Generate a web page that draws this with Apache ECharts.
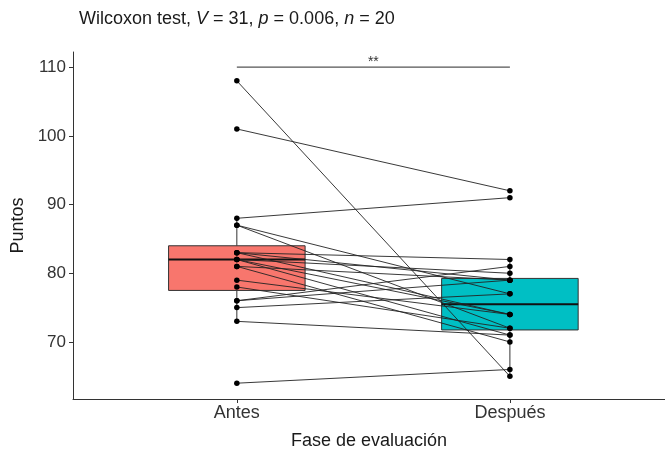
<!DOCTYPE html>
<html>
<head>
<meta charset="utf-8">
<script src="https://cdn.jsdelivr.net/npm/echarts@6/dist/echarts.min.js"></script>
<style>html,body{margin:0;padding:0;background:#fff;}#c{width:665px;height:456px;}</style>
</head>
<body>
<div id="c"></div>
<script>
const categories = ['Antes', 'Después'];
const antes   = [108, 101, 88, 87, 87, 83, 83, 83, 82, 82, 82, 81, 81, 79, 78, 76, 76, 75, 73, 64];
const despues = [65, 92, 91, 77, 72, 82, 74, 79, 80, 71, 74, 79, 70, 74, 72, 81, 79, 77, 71, 66];
const yTicks = [70, 80, 90, 100, 110];
const boxColors = ['#F8766D', '#00BFC4'];
const titleParts = { V: 31, p: '0.006', n: 20 };
const sigLabel = '**';
const sigLevel = 110;

function quant(arr, q) {
  const s = arr.slice().sort((a, b) => a - b);
  const pos = (s.length - 1) * q;
  const lo = Math.floor(pos), hi = Math.ceil(pos);
  return s[lo] + (s[hi] - s[lo]) * (pos - lo);
}
function boxStats(arr, xpos) {
  const q1 = quant(arr, 0.25), med = quant(arr, 0.5), q3 = quant(arr, 0.75);
  const iqr = q3 - q1;
  const inside = arr.filter(v => v >= q1 - 1.5 * iqr && v <= q3 + 1.5 * iqr);
  return [xpos, q1, med, q3, Math.min(...inside), Math.max(...inside)];
}
const boxData = [boxStats(antes, 1), boxStats(despues, 2)];

const pairSeries = antes.map((a, i) => ({
  type: 'line',
  data: [[1, a], [2, despues[i]]],
  symbol: 'circle',
  symbolSize: 5.5,
  itemStyle: { color: '#000' },
  lineStyle: { color: '#222', width: 0.9 },
  z: 5,
  silent: true,
  animation: false
}));

const chart = echarts.init(document.getElementById('c'));
const font = 'Liberation Sans';
chart.setOption({
  animation: false,
  textStyle: { fontFamily: font },
  title: {
    left: 74, top: 5,
    text: '{a|Wilcoxon test, }{i|V}{a| = ' + titleParts.V + ', }{i|p}{a| = ' + titleParts.p + ', }{i|n}{a| = ' + titleParts.n + '}',
    textStyle: {
      fontWeight: 'normal',
      rich: {
        a: { fontSize: 18, color: '#1a1a1a', fontWeight: 'normal', fontFamily: font },
        i: { fontSize: 18, color: '#1a1a1a', fontWeight: 'normal', fontStyle: 'italic', fontFamily: font }
      }
    }
  },
  grid: { left: 73, right: 0, top: 52, bottom: 57 },
  xAxis: {
    type: 'value', min: 0.4, max: 2.568,
    name: 'Fase de evaluación', nameLocation: 'middle', nameGap: 33,
    nameTextStyle: { fontSize: 18, color: '#1a1a1a', fontFamily: font },
    axisLine: { lineStyle: { color: '#333', width: 1 } },
    axisTick: { customValues: [1, 2], length: 4, lineStyle: { color: '#333' } },
    axisLabel: { customValues: [1, 2], formatter: v => categories[Math.round(v) - 1], fontSize: 18, color: '#333', margin: 5, fontFamily: font },
    splitLine: { show: false }
  },
  yAxis: {
    type: 'value', min: 61.7, max: 112.2,
    name: 'Puntos', nameLocation: 'middle', nameGap: 46, nameRotate: 90,
    nameTextStyle: { fontSize: 18, color: '#1a1a1a', fontFamily: font },
    axisLine: { show: true, lineStyle: { color: '#333', width: 1 } },
    axisTick: { show: true, customValues: yTicks, length: 4, lineStyle: { color: '#333' } },
    axisLabel: { customValues: yTicks, fontSize: 17, color: '#333', margin: 7, fontFamily: font },
    splitLine: { show: false }
  },
  series: [
    {
      type: 'custom',
      data: boxData,
      z: 2,
      silent: true,
      renderItem: function (params, api) {
        const x = api.value(0), q1 = api.value(1), med = api.value(2), q3 = api.value(3), lo = api.value(4), hi = api.value(5);
        const tl = api.coord([x - 0.25, q3]);
        const br = api.coord([x + 0.25, q1]);
        const mL = api.coord([x - 0.25, med]);
        const mR = api.coord([x + 0.25, med]);
        const cTop = api.coord([x, hi]);
        const cQ3 = api.coord([x, q3]);
        const cQ1 = api.coord([x, q1]);
        const cLo = api.coord([x, lo]);
        const stroke = { stroke: '#333', lineWidth: 1 };
        return {
          type: 'group',
          children: [
            { type: 'line', shape: { x1: cTop[0], y1: cTop[1], x2: cQ3[0], y2: cQ3[1] }, style: stroke },
            { type: 'line', shape: { x1: cQ1[0], y1: cQ1[1], x2: cLo[0], y2: cLo[1] }, style: stroke },
            { type: 'rect', shape: { x: tl[0], y: tl[1], width: br[0] - tl[0], height: br[1] - tl[1] },
              style: { fill: boxColors[params.dataIndex], stroke: '#333', lineWidth: 1 } },
            { type: 'line', shape: { x1: mL[0], y1: mL[1], x2: mR[0], y2: mR[1] }, style: { stroke: '#111', lineWidth: 2 } }
          ]
        };
      }
    },
    {
      type: 'line',
      data: [[1, sigLevel], [2, sigLevel]],
      symbol: 'none',
      lineStyle: { color: '#555', width: 1.2 },
      silent: true,
      z: 3,
      markPoint: {
        symbol: 'rect', symbolSize: 1,
        itemStyle: { color: 'rgba(0,0,0,0)' },
        label: { show: true, formatter: sigLabel, color: '#333', fontSize: 14, offset: [0, -5] },
        data: [{ coord: [1.5, sigLevel] }]
      }
    }
  ].concat(pairSeries)
});
</script>
</body>
</html>
